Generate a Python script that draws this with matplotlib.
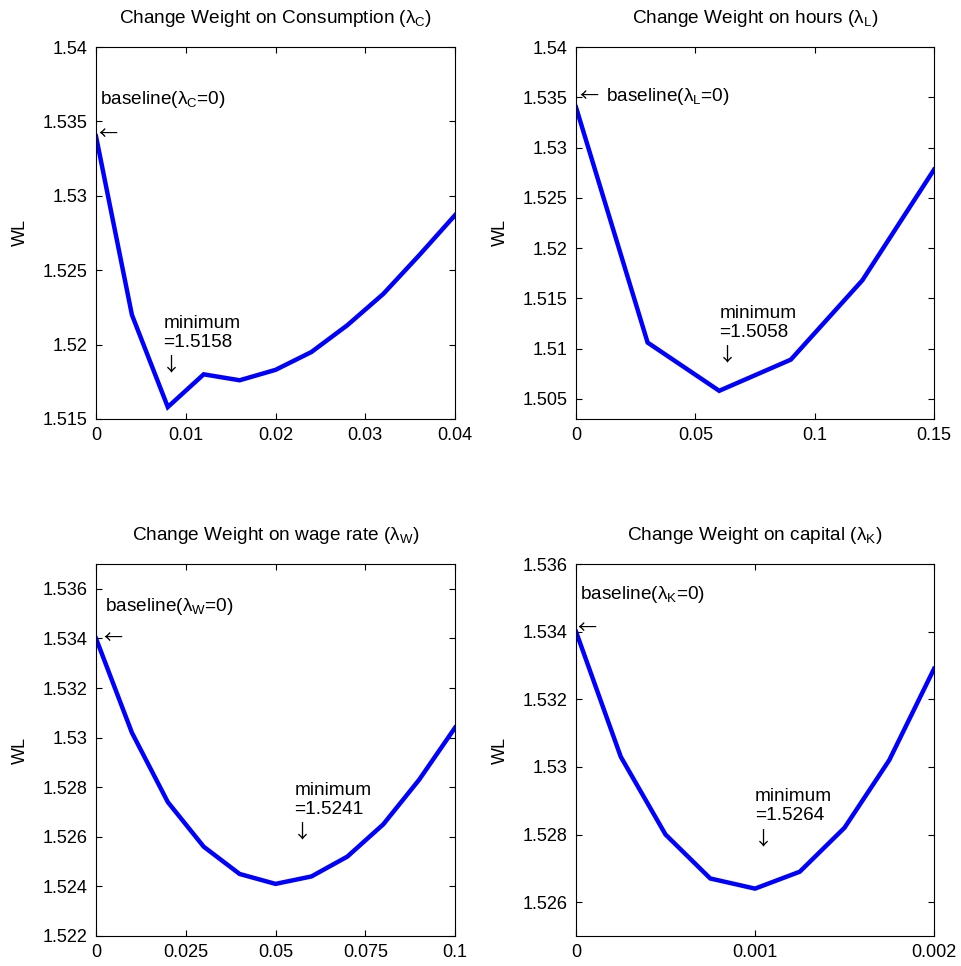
import matplotlib
matplotlib.use('Agg')
import matplotlib.pyplot as plt
from matplotlib.ticker import FormatStrFormatter

plt.rcParams['font.family'] = ['Liberation Sans', 'DejaVu Sans']
plt.rcParams['mathtext.default'] = 'regular'

# data
x_c = [0, 0.004, 0.008, 0.012, 0.016, 0.02, 0.024, 0.028, 0.032, 0.036, 0.04]
wl_c = [1.5340, 1.5220, 1.5158, 1.5180, 1.5176, 1.5183, 1.5195, 1.5213, 1.5234, 1.5260, 1.5287]

x_l = [0, 0.03, 0.06, 0.09, 0.12, 0.15]
wl_l = [1.5340, 1.5106, 1.5058, 1.5089, 1.5168, 1.5278]

x_w = [0, 0.01, 0.02, 0.03, 0.04, 0.05, 0.06, 0.07, 0.08, 0.09, 0.1]
wl_w = [1.5340, 1.5302, 1.5274, 1.5256, 1.5245, 1.5241, 1.5244, 1.5252, 1.5265, 1.5283, 1.5304]

x_k = [0, 0.00025, 0.0005, 0.00075, 0.001, 0.00125, 0.0015, 0.00175, 0.002]
wl_k = [1.5340, 1.5303, 1.5280, 1.5267, 1.5264, 1.5269, 1.5282, 1.5302, 1.5329]

panels = [
    dict(x=x_c, y=wl_c, sub='C', name='Consumption',
         xlim=(0, 0.04), ylim=(1.515, 1.54),
         xticks=[0, 0.01, 0.02, 0.03, 0.04],
         yticks=[1.515, 1.52, 1.525, 1.53, 1.535, 1.54],
         base=(0.00045, 1.5365), arrow=(0.0003, 1.5341),
         mintxt=(0.0075, 1.5208), minval='1.5158'),
    dict(x=x_l, y=wl_l, sub='L', name='hours',
         xlim=(0, 0.15), ylim=(1.503, 1.54),
         xticks=[0, 0.05, 0.1, 0.15],
         yticks=[1.505, 1.51, 1.515, 1.52, 1.525, 1.53, 1.535, 1.54],
         base=(0.0126, 1.5351), arrow=(0.0012, 1.5351),
         mintxt=(0.06, 1.51258), minval='1.5058'),
    dict(x=x_w, y=wl_w, sub='W', name='wage rate',
         xlim=(0, 0.1), ylim=(1.522, 1.537),
         xticks=[0, 0.025, 0.05, 0.075, 0.1],
         yticks=[1.522, 1.524, 1.526, 1.528, 1.53, 1.532, 1.534, 1.536],
         base=(0.0025, 1.5353), arrow=(0.0020, 1.5340),
         mintxt=(0.0552, 1.52749), minval='1.5241'),
    dict(x=x_k, y=wl_k, sub='K', name='capital',
         xlim=(0, 0.002), ylim=(1.525, 1.536),
         xticks=[0, 0.001, 0.002],
         yticks=[1.526, 1.528, 1.53, 1.532, 1.534, 1.536],
         base=(0.00002, 1.5351), arrow=(0.000005, 1.5341),
         mintxt=(0.001, 1.52884), minval='1.5264'),
]

fig = plt.figure(figsize=(9.61, 9.66), dpi=100)
rects = [
    [0.0999, 0.5663, 0.3736, 0.385],
    [0.5994, 0.5663, 0.3725, 0.385],
    [0.0999, 0.0311, 0.3736, 0.385],
    [0.5994, 0.0311, 0.3725, 0.385],
]

fs = 13.7
arrow_font = ['Noto Sans CJK JP', 'DejaVu Sans']
for p, r in zip(panels, rects):
    ax = fig.add_axes(r)
    ax.plot(p['x'], p['y'], color='#0000ff', lw=3.2, solid_joinstyle='miter')
    ax.set_xlim(*p['xlim'])
    ax.set_ylim(*p['ylim'])
    ax.set_xticks(p['xticks'])
    ax.set_yticks(p['yticks'])
    ax.xaxis.set_major_formatter(FormatStrFormatter('%g'))
    ax.yaxis.set_major_formatter(FormatStrFormatter('%g'))
    ax.tick_params(direction='in', top=True, right=True, length=4,
                   width=0.8, labelsize=13, pad=6)
    for s in ax.spines.values():
        s.set_linewidth(0.8)
    ax.set_ylabel('WL', fontsize=13, labelpad=10)
    s = p['sub']
    ax.set_title('Change Weight on %s ($\\lambda_{%s}$)' % (p['name'], s),
                 fontsize=fs, pad=17)
    ax.text(p['base'][0], p['base'][1], 'baseline($\\lambda_{%s}$=0)' % s,
            fontsize=fs, va='center', ha='left')
    ax.text(p['arrow'][0], p['arrow'][1], '\u2190', family=arrow_font,
            fontsize=fs, va='center', ha='left')
    ax.text(p['mintxt'][0], p['mintxt'][1], 'minimum\n=%s' % p['minval'],
            fontsize=fs, va='center', ha='left', linespacing=1.15)
    ax.annotate('\u2193', xy=p['mintxt'], xytext=(-1, -24),
                textcoords='offset points', family=arrow_font,
                fontsize=fs, va='center', ha='left')

fig.savefig('out.png', dpi=100)
